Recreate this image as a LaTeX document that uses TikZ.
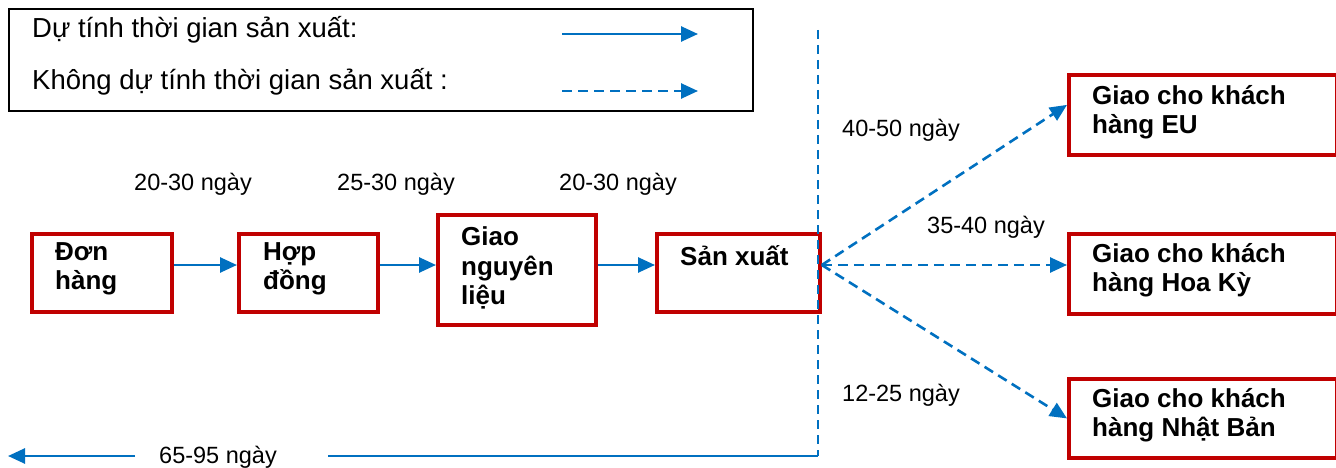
\documentclass[tikz,border=0pt]{standalone}
\usepackage{fontspec}
\setmainfont{Liberation Sans}
\usetikzlibrary{arrows.meta,calc}
\definecolor{boxred}{HTML}{C00000}
\definecolor{arrblue}{HTML}{0070C0}
\tikzset{
  x=1pt,y=-1pt,
  procbox/.style={draw=boxred, line width=3.8pt, anchor=north west, inner sep=0pt},
  boxtext/.style={anchor=west, align=left, inner sep=0pt, font=\fontsize{26}{29.5}\selectfont\bfseries},
  daylabel/.style={inner sep=0pt, font=\fontsize{23.5}{27}\selectfont},
  legtext/.style={anchor=west, inner sep=0pt, font=\fontsize{27.5}{31}\selectfont},
  solidarrow/.style={draw=arrblue, line width=2.6pt, -{Triangle[length=17pt,width=15pt]}},
  dasharrow/.style={draw=arrblue, line width=2.6pt, dash pattern=on 10pt off 6pt, -{Triangle[length=17pt,width=15pt]}},
  solidline/.style={draw=arrblue, line width=2.6pt},
  dashline/.style={draw=arrblue, line width=2.6pt, dash pattern=on 9pt off 6pt},
}
\begin{document}
\begin{tikzpicture}
\useasboundingbox (0,0) rectangle (1336,468);
% legend
\node[draw=black, line width=2.2pt, anchor=north west, minimum width=744pt, minimum height=102pt, inner sep=0pt] (legend) at (8,8) {};
\node[legtext] (leg1) at (32,30) {Dự tính thời gian sản xuất:};
\node[legtext] (leg2) at (32,82) {Không dự tính thời gian sản xuất :};
\coordinate (la1) at (562,34);
\coordinate (lb1) at (698,34);
\coordinate (la2) at (562,91);
\coordinate (lb2) at (698,91);
\draw[solidarrow] (la1) -- (lb1);
\draw[dasharrow] (la2) -- (lb2);

% process boxes
\node[procbox, minimum width=140pt, minimum height=78pt] (b1) at (30,232) {};
\node[procbox, minimum width=139pt, minimum height=78pt] (b2) at (237,232) {};
\node[procbox, minimum width=158pt, minimum height=110pt] (b3) at (436,213) {};
\node[procbox, minimum width=163pt, minimum height=78pt] (b4) at (655,232) {};
\node[procbox, minimum width=268pt, minimum height=80pt] (eu) at (1067,73) {};
\node[procbox, minimum width=268pt, minimum height=80pt] (us) at (1067,232) {};
\node[procbox, minimum width=268pt, minimum height=79pt] (jp) at (1067,377) {};

\node[boxtext] (t1) at (55,269) {Đơn\\hàng};
\node[boxtext] (t2) at (263,269) {Hợp\\đồng};
\node[boxtext] (t3) at (461,268) {Giao\\nguyên\\liệu};
\node[boxtext] (t4) at (680,256) {Sản xuất};
\node[boxtext] (t5) at (1092,112) {Giao cho khách\\hàng EU};
\node[boxtext] (t6) at (1092,270) {Giao cho khách\\hàng Hoa Kỳ};
\node[boxtext] (t7) at (1092,415) {Giao cho khách\\hàng Nhật Bản};

% day labels
\node[daylabel] (d1) at (193,184) {20-30 ngày};
\node[daylabel] (d2) at (396,184) {25-30 ngày};
\node[daylabel] (d3) at (618,184) {20-30 ngày};
\node[daylabel] (d4) at (901,130) {40-50 ngày};
\node[daylabel] (d5) at (986,227) {35-40 ngày};
\node[daylabel] (d6) at (901,395) {12-25 ngày};
\node[daylabel] (d7) at (218,457) {65-95 ngày};

% solid flow arrows
\coordinate (yl) at (0,265);
\draw[solidarrow] (b1.east |- yl) -- (b2.west |- yl);
\draw[solidarrow] (b2.east |- yl) -- (b3.west |- yl);
\draw[solidarrow] (b3.east |- yl) -- (b4.west |- yl);

% vertical dashed line and bottom total
\coordinate (vtop) at (818,30);
\coordinate (vbot) at (818,456);
\draw[dashline] (vtop) -- (vbot);
\coordinate (c1) at (328,456);
\coordinate (c2) at (135,456);
\coordinate (c3) at (8,456);
\draw[solidline] (vbot) -- (c1);
\draw[solidarrow] (c2) -- (c3);

% dashed delivery arrows
\coordinate (src) at (b4.east |- yl);
\coordinate (teu) at ($(eu.west)+(0,-10)$);
\draw[dasharrow] (src) -- (teu);
\draw[dasharrow] (src) -- (us.west |- yl);
\draw[dasharrow] (src) -- (jp.west);
\end{tikzpicture}
\end{document}
